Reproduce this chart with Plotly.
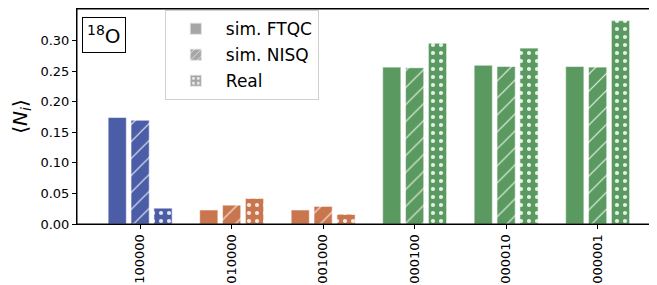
import plotly.graph_objects as go

categories = ["100000", "010000", "001000", "000100", "000010", "000001"]
ftqc = [0.1745, 0.023, 0.023, 0.257, 0.260, 0.258]
nisq = [0.170, 0.031, 0.029, 0.256, 0.258, 0.257]
real = [0.026, 0.042, 0.016, 0.296, 0.288, 0.333]
bar_colors = ["#4B5DA6", "#C9764F", "#C9764F", "#5A9A60", "#5A9A60", "#5A9A60"]
series = [("sim. FTQC", ftqc, "", -0.35), ("sim. NISQ", nisq, "/", -0.10), ("Real", real, ".", 0.15)]

fig = go.Figure()
for name, vals, shape, off in series:
    for col in dict.fromkeys(bar_colors):
        idx = [i for i, c in enumerate(bar_colors) if c == col]
        fig.add_trace(go.Bar(
            x=[categories[i] for i in idx], y=[vals[i] for i in idx],
            name=name, showlegend=False, legendgroup=name,
            width=0.2, offset=off,
            marker=dict(color=col,
                        line=dict(color="rgba(255,255,255,0.55)", width=1.2),
                        pattern=dict(shape=shape, fgcolor="white", fgopacity=0.85,
                                     fillmode="overlay",
                                     size=12 if shape == "/" else 8,
                                     solidity=0.22 if shape == "." else 0.1)),
        ))
for name, vals, shape, off in series:
    fig.add_trace(go.Bar(
        x=[None], y=[None], name=name, showlegend=True, legendgroup=name,
        width=0.2, offset=off,
        marker=dict(color="#A6A6A6",
                    line=dict(color="rgba(255,255,255,0.6)", width=1),
                    pattern=dict(shape=shape, fgcolor="white", fgopacity=0.85,
                                 fillmode="overlay", size=6, solidity=0.25 if shape == "." else 0.15)),
    ))

font = "DejaVu Sans"
# the page body adds an 8px offset, so the figure is 8px smaller with shifted margins
fig.update_layout(
    width=649, height=277,
    margin=dict(l=69, r=2, t=1, b=61),
    plot_bgcolor="white", paper_bgcolor="white",
    font=dict(family=font, size=13, color="black"),
    barmode="overlay",
    legend=dict(x=0.152, y=0.995, xanchor="left", yanchor="top",
                bgcolor="white", bordercolor="#D0D0D0", borderwidth=1,
                font=dict(size=17, family=font), itemsizing="constant", itemwidth=50,
                tracegroupgap=1),
    xaxis=dict(type="category", categoryorder="array", categoryarray=categories,
               range=[-0.69, 5.627], showline=True, linecolor="black",
               linewidth=1, mirror=True, ticks="outside", ticklen=4, tickcolor="black",
               tickangle=-90, tickfont=dict(size=13), showgrid=False, automargin=False),
    yaxis=dict(range=[0, 0.352], showline=True, linecolor="black", linewidth=1, mirror=True,
               ticks="outside", ticklen=4, tickcolor="black", tickvals=[0, 0.05, 0.1, 0.15, 0.2, 0.25, 0.3],
               tickformat=".2f", tickfont=dict(size=13), showgrid=False, zeroline=False,
               automargin=False,
               title=dict(text="⟨<i>N</i><sub><i>i</i></sub>⟩", font=dict(size=20), standoff=8)),
    shapes=[dict(type="rect", xref="paper", yref="paper", x0=0, x1=1, y0=0, y1=1,
                 line=dict(color="black", width=1), layer="above")],
    annotations=[dict(xref="paper", yref="paper", x=0.009, y=0.965, xanchor="left", yanchor="top",
                      text="<sup>18</sup>O", showarrow=False, font=dict(size=20, family=font),
                      bordercolor="black", borderwidth=1, borderpad=4, bgcolor="white")],
)
fig.write_html("out.html")
